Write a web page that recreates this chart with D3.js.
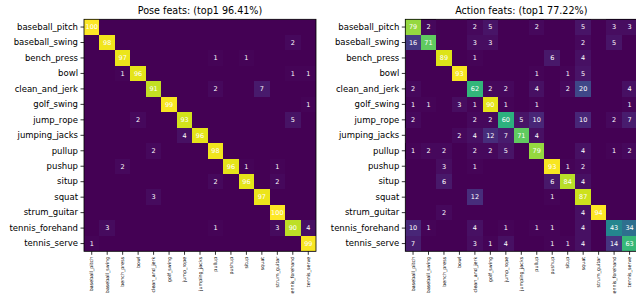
<!DOCTYPE html>
<html>
<head>
<meta charset="utf-8">
<script src="https://cdn.jsdelivr.net/npm/d3@7"></script>
<style>
  body { margin: 0; background: #fff; }
  svg { display: block; font-family: "DejaVu Sans", sans-serif; }
</style>
</head>
<body>
<div id="chart"></div>
<script>
const classes = ['baseball_pitch', 'baseball_swing', 'bench_press', 'bowl', 'clean_and_jerk',
  'golf_swing', 'jump_rope', 'jumping_jacks', 'pullup', 'pushup', 'situp', 'squat',
  'strum_guitar', 'tennis_forehand', 'tennis_serve']

// rows = true class, columns = predicted class (percent)
const poseMatrix = [
  [100, 0, 0, 0, 0, 0, 0, 0, 0, 0, 0, 0, 0, 0, 0],
  [0, 98, 0, 0, 0, 0, 0, 0, 0, 0, 0, 0, 0, 2, 0],
  [0, 0, 97, 0, 0, 0, 0, 0, 1, 0, 1, 0, 0, 0, 0],
  [0, 0, 1, 96, 0, 0, 0, 0, 0, 0, 0, 0, 0, 1, 1],
  [0, 0, 0, 0, 91, 0, 0, 0, 2, 0, 0, 7, 0, 0, 0],
  [0, 0, 0, 0, 0, 99, 0, 0, 0, 0, 0, 0, 0, 0, 1],
  [0, 0, 0, 2, 0, 0, 93, 0, 0, 0, 0, 0, 0, 5, 0],
  [0, 0, 0, 0, 0, 0, 4, 96, 0, 0, 0, 0, 0, 0, 0],
  [0, 0, 0, 0, 2, 0, 0, 0, 98, 0, 0, 0, 0, 0, 0],
  [0, 0, 2, 0, 0, 0, 0, 0, 0, 96, 1, 0, 1, 0, 0],
  [0, 0, 0, 0, 0, 0, 0, 0, 2, 0, 96, 0, 2, 0, 0],
  [0, 0, 0, 0, 3, 0, 0, 0, 0, 0, 0, 97, 0, 0, 0],
  [0, 0, 0, 0, 0, 0, 0, 0, 0, 0, 0, 0, 100, 0, 0],
  [0, 3, 0, 0, 0, 0, 0, 0, 1, 0, 0, 0, 3, 90, 4],
  [1, 0, 0, 0, 0, 0, 0, 0, 0, 0, 0, 0, 0, 0, 99]
]

const actionMatrix = [
  [79, 2, 0, 0, 2, 5, 0, 0, 2, 0, 0, 5, 0, 3, 3],
  [16, 71, 0, 0, 3, 3, 0, 0, 0, 0, 0, 2, 0, 5, 0],
  [0, 0, 89, 0, 1, 0, 0, 0, 0, 6, 0, 4, 0, 0, 0],
  [0, 0, 0, 93, 0, 0, 0, 0, 1, 0, 1, 5, 0, 0, 0],
  [2, 0, 0, 0, 62, 2, 2, 0, 4, 0, 2, 20, 0, 0, 4],
  [1, 1, 0, 3, 1, 90, 1, 0, 1, 0, 0, 0, 0, 0, 1],
  [2, 0, 0, 0, 2, 2, 60, 5, 10, 0, 0, 10, 0, 2, 7],
  [0, 0, 0, 2, 4, 12, 7, 71, 4, 0, 0, 0, 0, 0, 0],
  [1, 2, 2, 0, 2, 2, 5, 0, 79, 0, 0, 4, 0, 1, 2],
  [0, 0, 3, 0, 1, 0, 0, 0, 0, 93, 1, 2, 0, 0, 0],
  [0, 0, 6, 0, 0, 0, 0, 0, 0, 6, 84, 4, 0, 0, 0],
  [0, 0, 0, 0, 12, 0, 0, 0, 0, 1, 0, 87, 0, 0, 0],
  [0, 0, 2, 0, 0, 0, 0, 0, 0, 0, 0, 4, 94, 0, 0],
  [10, 1, 0, 0, 4, 0, 1, 0, 1, 1, 0, 4, 0, 43, 34],
  [7, 0, 0, 0, 3, 1, 4, 0, 0, 1, 1, 4, 0, 14, 63]
]

const titles = ['Pose feats: (top1 96.41%)', 'Action feats: (top1 77.22%)']

const W = 636, H = 294
const size = 232

const svg = d3.select('#chart')
  .append('svg')
  .attr('width', W)
  .attr('height', H)

function drawMatrix(matrix, title, left, top) {
  const g = svg.append('g')
    .attr('transform', `translate(${left}, ${top})`)

  const x = d3.scaleBand().domain(classes).range([0, size])
  const y = d3.scaleBand().domain(classes).range([0, size])
  const color = d3.scaleSequential(d3.interpolateViridis)
    .domain([0, d3.max(matrix.flat())])

  const cells = []
  matrix.forEach((row, i) => row.forEach((v, j) => cells.push({ r: classes[i], c: classes[j], v })))

  // background in the zero colour so no seams show between cells
  g.append('rect')
    .attr('width', size)
    .attr('height', size)
    .style('fill', color(0))

  g.selectAll('rect.cell')
    .data(cells.filter(d => d.v > 0))
    .enter()
    .append('rect')
    .attr('class', 'cell')
    .attr('x', d => x(d.c))
    .attr('y', d => y(d.r))
    .attr('width', x.bandwidth())
    .attr('height', y.bandwidth())
    .attr('shape-rendering', 'crispEdges')
    .style('fill', d => color(d.v))

  g.selectAll('text.val')
    .data(cells.filter(d => d.v > 0))
    .enter()
    .append('text')
    .attr('class', 'val')
    .attr('x', d => x(d.c) + x.bandwidth() / 2)
    .attr('y', d => y(d.r) + y.bandwidth() / 2)
    .attr('dy', '0.35em')
    .style('text-anchor', 'middle')
    .style('font-size', '6.5px')
    .style('fill', '#fff')
    .text(d => d.v)

  // frame
  g.append('rect')
    .attr('width', size)
    .attr('height', size)
    .style('fill', 'none')
    .style('stroke', '#000')
    .style('stroke-width', 0.8)

  const yAxis = d3.axisLeft(y).tickSize(3.5).tickPadding(2.5)
  const yg = g.append('g').call(yAxis)
  yg.select('.domain').remove()
  yg.selectAll('line').style('stroke', '#000').style('stroke-width', 0.8)
  yg.selectAll('text')
    .style('font-size', '8.5px')
    .style('fill', '#000')
    .style('font-family', '"DejaVu Sans", sans-serif')

  const xAxis = d3.axisBottom(x).tickSize(3.5).tickPadding(2)
  const xg = g.append('g')
    .attr('transform', `translate(0, ${size})`)
    .call(xAxis)
  xg.select('.domain').remove()
  xg.selectAll('line').style('stroke', '#000').style('stroke-width', 0.8)
  xg.selectAll('text')
    .style('font-size', '4.8px')
    .style('fill', '#000')
    .style('font-family', '"DejaVu Sans", sans-serif')
    .style('text-anchor', 'end')
    .attr('dy', '0.35em')
    .attr('y', 0)
    .attr('x', -5.5)
    .attr('transform', 'rotate(-90)')

  // title
  svg.append('text')
    .attr('x', left + size / 2)
    .attr('y', top - 5)
    .style('text-anchor', 'middle')
    .style('font-size', '9.6px')
    .style('fill', '#000')
    .text(title)
}

drawMatrix(poseMatrix, titles[0], 84, 19.3)
drawMatrix(actionMatrix, titles[1], 405.3, 19.3)
</script>
</body>
</html>
